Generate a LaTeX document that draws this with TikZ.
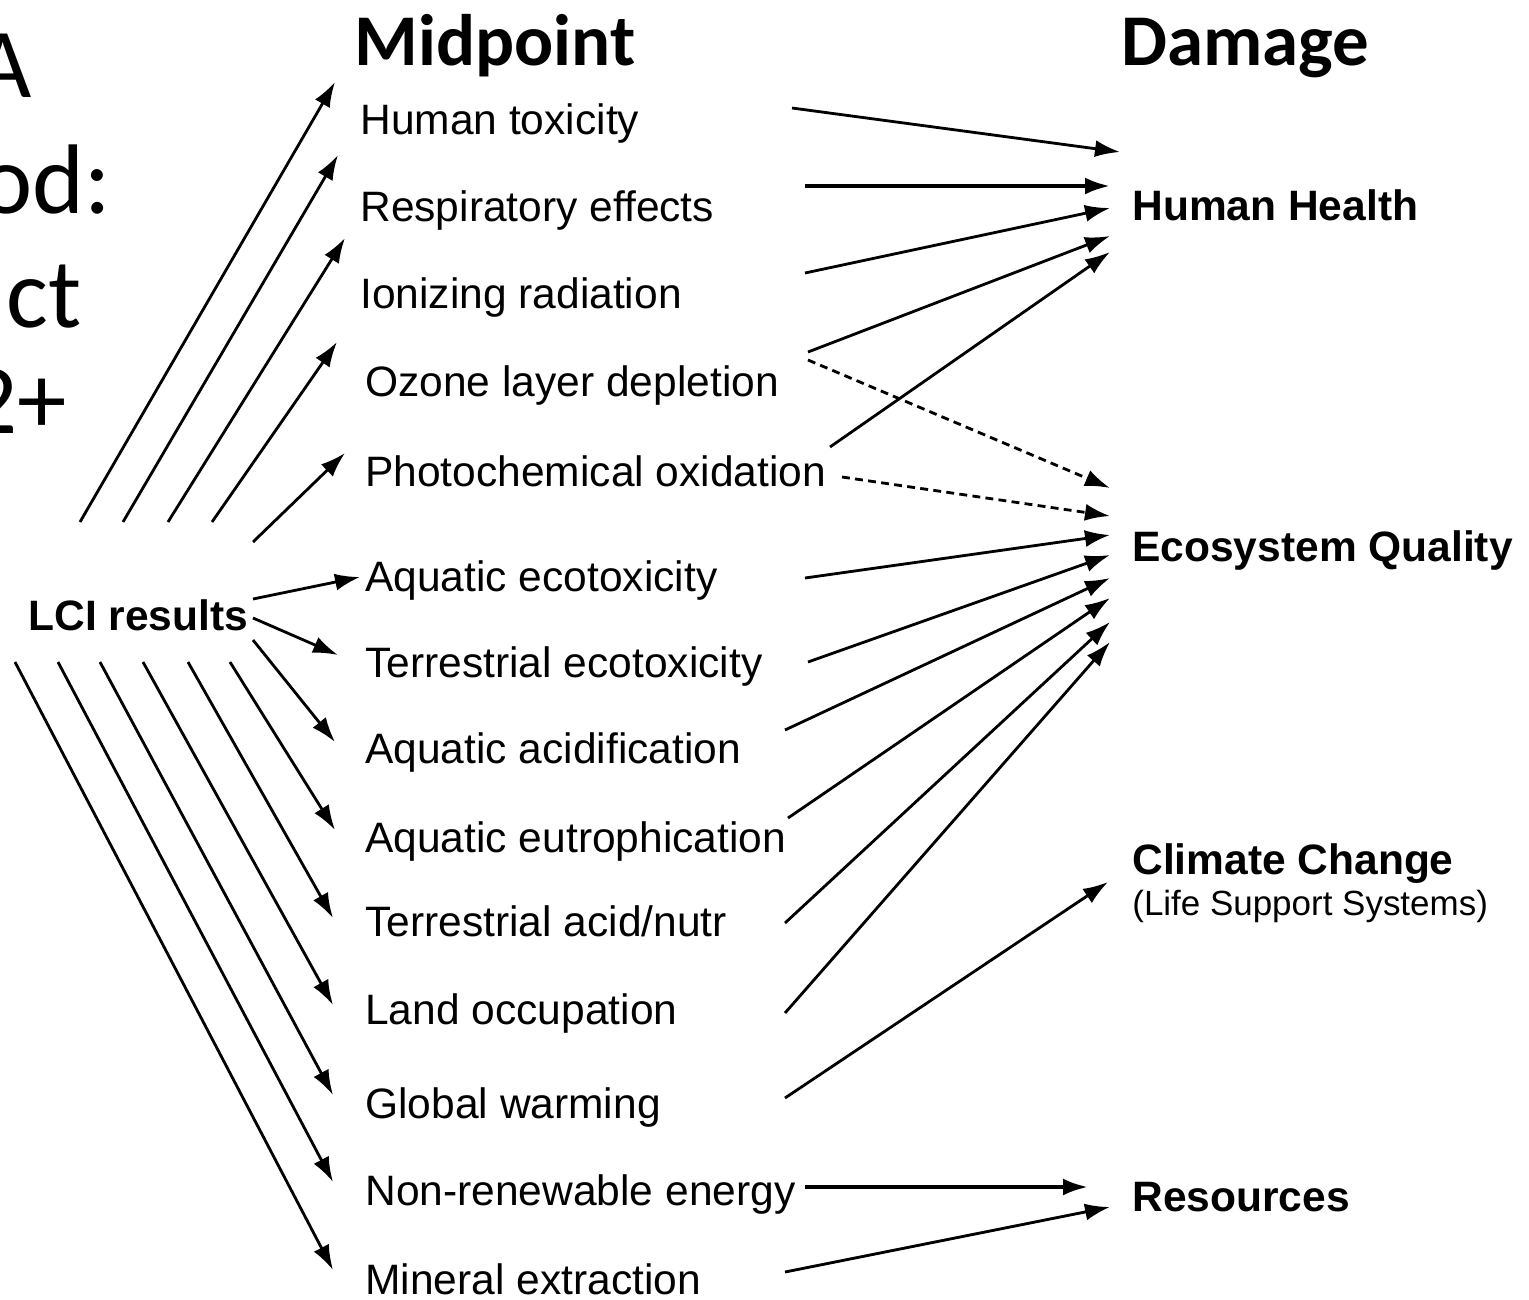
\documentclass[tikz,border=0pt]{standalone}
\usepackage{fontspec}
\setmainfont{Liberation Sans}
\newfontfamily\slidefont{Carlito}
\usetikzlibrary{arrows.meta}

\tikzset{
  lbl/.style={anchor=base west, inner sep=0pt, font=\fontsize{24.2}{28}\selectfont},
  dmg/.style={anchor=base west, inner sep=0pt, font=\fontsize{24.2}{28}\selectfont\bfseries},
  sub/.style={anchor=base west, inner sep=0pt, font=\fontsize{19.9}{24}\selectfont},
  head/.style={anchor=base, inner sep=0pt, font=\slidefont\bfseries\fontsize{41.5}{48}\selectfont},
  frag/.style={anchor=base east, inner sep=0pt, font=\slidefont\fontsize{56.3}{64}\selectfont},
  arr/.style={-{Latex[length=0.5cm,width=0.34cm]}, line width=1.6pt},
  dasharr/.style={arr, dash pattern=on 4.5pt off 3pt},
}

\begin{document}
\begin{tikzpicture}[x=0.02cm, y=-0.02cm]
  \useasboundingbox (0,0) rectangle (1529,1299);

  % slide title, cut off at the left
  \node[frag] (t1) at (32,97) {A};
  \node[frag] (t2) at (111,213) {od:};
  \node[frag] (t3) at (82,327) {ct};
  \node[frag] (t4) at (67,433) {2+};

  \node[head] (mid) at (495,65) {Midpoint};
  \node[head] (dam) at (1245,65) {Damage};

  \node[dmg] (lci) at (28,630) {LCI results};

  % midpoint categories
  \node[lbl] (ht) at (360,134) {Human toxicity};
  \node[lbl] (re) at (360,221) {Respiratory effects};
  \node[lbl] (ir) at (360,308) {Ionizing radiation};
  \node[lbl] (ol) at (365,396) {Ozone layer depletion};
  \node[lbl] (po) at (365,486) {Photochemical oxidation};
  \node[lbl] (ae) at (365,591) {Aquatic ecotoxicity};
  \node[lbl] (te) at (365,677) {Terrestrial ecotoxicity};
  \node[lbl] (aa) at (365,763) {Aquatic acidification};
  \node[lbl] (au) at (365,852) {Aquatic eutrophication};
  \node[lbl] (ta) at (365,936) {Terrestrial acid/nutr};
  \node[lbl] (lo) at (365,1024) {Land occupation};
  \node[lbl] (gw) at (365,1118) {Global warming};
  \node[lbl] (nr) at (365,1205) {Non-renewable energy};
  \node[lbl] (me) at (365,1294) {Mineral extraction};

  % damage categories
  \node[dmg] (hh) at (1132,220) {Human Health};
  \node[dmg] (eq) at (1132,561) {Ecosystem Quality};
  \node[dmg] (cc) at (1132,874) {Climate Change};
  \node[sub] (ls) at (1132,915) {(Life Support Systems)};
  \node[dmg] (rs) at (1132,1211) {Resources};

  % LCI results -> midpoint
  \coordinate (a1) at (80,522);   \coordinate (b1) at (335,82);
  \coordinate (a2) at (123,522);  \coordinate (b2) at (338,155);
  \coordinate (a3) at (168,522);  \coordinate (b3) at (345,238);
  \coordinate (a4) at (212,522);  \coordinate (b4) at (337,342);
  \coordinate (a5) at (253,542);  \coordinate (b5) at (345,453);
  \coordinate (a6) at (253,599);  \coordinate (b6) at (360,577);
  \coordinate (a7) at (253,618);  \coordinate (b7) at (338,655);
  \coordinate (a8) at (253,640);  \coordinate (b8) at (335,742);
  \coordinate (a9) at (230,662);  \coordinate (b9) at (335,830);
  \coordinate (a10) at (188,662); \coordinate (b10) at (333,918);
  \coordinate (a11) at (143,662); \coordinate (b11) at (333,1005);
  \coordinate (a12) at (100,662); \coordinate (b12) at (333,1095);
  \coordinate (a13) at (58,662);  \coordinate (b13) at (333,1182);
  \coordinate (a14) at (15,662);  \coordinate (b14) at (333,1270);

  \draw[arr] (a1) -- (b1);
  \draw[arr] (a2) -- (b2);
  \draw[arr] (a3) -- (b3);
  \draw[arr] (a4) -- (b4);
  \draw[arr] (a5) -- (b5);
  \draw[arr] (a6) -- (b6);
  \draw[arr] (a7) -- (b7);
  \draw[arr] (a8) -- (b8);
  \draw[arr] (a9) -- (b9);
  \draw[arr] (a10) -- (b10);
  \draw[arr] (a11) -- (b11);
  \draw[arr] (a12) -- (b12);
  \draw[arr] (a13) -- (b13);
  \draw[arr] (a14) -- (b14);

  % midpoint -> damage
  \coordinate (c1) at (792,108);   \coordinate (d1) at (1120,152);
  \coordinate (c2) at (805,186);   \coordinate (d2) at (1110,186);
  \coordinate (c3) at (805,273);   \coordinate (d3) at (1110,208);
  \coordinate (c4) at (808,352);   \coordinate (d4) at (1110,236);
  \coordinate (c5) at (830,447);   \coordinate (d5) at (1110,252);
  \coordinate (c6) at (808,360);   \coordinate (d6) at (1110,488);
  \coordinate (c7) at (842,477);   \coordinate (d7) at (1110,516);
  \coordinate (c8) at (805,578);   \coordinate (d8) at (1110,535);
  \coordinate (c9) at (808,662);   \coordinate (d9) at (1110,555);
  \coordinate (c10) at (785,730);  \coordinate (d10) at (1110,578);
  \coordinate (c11) at (788,818);  \coordinate (d11) at (1110,598);
  \coordinate (c12) at (785,923);  \coordinate (d12) at (1110,622);
  \coordinate (c13) at (785,1013); \coordinate (d13) at (1110,642);
  \coordinate (c14) at (785,1098); \coordinate (d14) at (1108,882);
  \coordinate (c15) at (805,1187); \coordinate (d15) at (1088,1187);
  \coordinate (c16) at (785,1272); \coordinate (d16) at (1110,1207);

  \draw[arr] (c1) -- (d1);
  \draw[arr, line width=2.2pt] (c2) -- (d2);
  \draw[arr] (c3) -- (d3);
  \draw[arr] (c4) -- (d4);
  \draw[arr] (c5) -- (d5);
  \draw[dasharr] (c6) -- (d6);
  \draw[dasharr] (c7) -- (d7);
  \draw[arr] (c8) -- (d8);
  \draw[arr] (c9) -- (d9);
  \draw[arr] (c10) -- (d10);
  \draw[arr] (c11) -- (d11);
  \draw[arr] (c12) -- (d12);
  \draw[arr] (c13) -- (d13);
  \draw[arr] (c14) -- (d14);
  \draw[arr, line width=2.2pt] (c15) -- (d15);
  \draw[arr] (c16) -- (d16);
\end{tikzpicture}
\end{document}
